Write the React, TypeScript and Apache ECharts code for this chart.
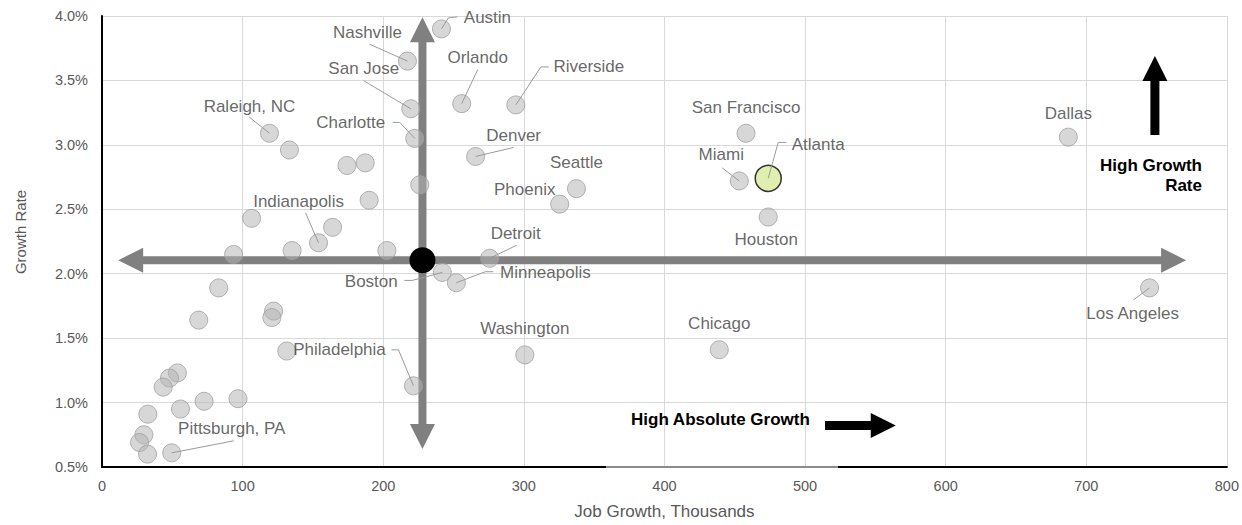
import { useEffect, useRef } from "react";
import * as echarts from "echarts";

// ---- data ----
const labeledCities = [
  "Austin", "Nashville", "San Jose", "Charlotte", "Raleigh, NC", "Orlando", "Riverside",
  "Denver", "Seattle", "Phoenix", "San Francisco", "Miami", "Houston", "Dallas",
  "Los Angeles", "Detroit", "Minneapolis", "Boston", "Washington", "Chicago",
  "Philadelphia", "Indianapolis", "Pittsburgh, PA",
];
const labeledJobGrowth = [
  241.4, 217.2, 219.6, 222.4, 119.1, 255.8, 294.3,
  265.7, 337.4, 325.5, 458.0, 453.2, 473.8, 687.2,
  745.0, 275.7, 252.0, 242.0, 300.7, 439.0,
  221.5, 154.0, 49.6,
];
const labeledGrowthRate = [
  3.90, 3.65, 3.28, 3.05, 3.09, 3.32, 3.31,
  2.91, 2.66, 2.54, 3.09, 2.72, 2.44, 3.06,
  1.89, 2.12, 1.93, 2.01, 1.37, 1.41,
  1.13, 2.24, 0.61,
];

const otherJobGrowth = [
  133.3, 174.2, 187.2, 190.0, 226.0, 106.4, 164.0, 135.2, 93.6, 202.6,
  83.0, 68.8, 122.0, 120.8, 131.4, 53.6, 48.0, 43.5, 72.6, 96.7,
  55.8, 32.6, 29.8, 26.7, 32.4,
];
const otherGrowthRate = [
  2.96, 2.84, 2.86, 2.57, 2.69, 2.43, 2.36, 2.18, 2.15, 2.18,
  1.89, 1.64, 1.71, 1.66, 1.40, 1.23, 1.19, 1.12, 1.01, 1.03,
  0.95, 0.91, 0.75, 0.69, 0.60,
];

const highlightCity = ["Atlanta"];
const highlightJobGrowth = [473.8];
const highlightGrowthRate = [2.74];

const averageJobGrowth = [227.9];
const averageGrowthRate = [2.105];

const xTicks = [0, 100, 200, 300, 400, 500, 600, 700, 800];
const yTicks = [0.5, 1.0, 1.5, 2.0, 2.5, 3.0, 3.5, 4.0];

// ---- label placement: pixel offset from the point to the label centre ----
const labelOffset: Record<string, [number, number]> = {
  Austin: [46, -11],
  Nashville: [-40, -29],
  "San Jose": [-47, -40],
  Charlotte: [-64, -16],
  "Raleigh, NC": [-20, -27],
  Orlando: [16, -46],
  Riverside: [73, -38],
  Denver: [38, -21],
  Seattle: [0, -26],
  Phoenix: [-35, -15],
  "San Francisco": [0, -26],
  Miami: [-18, -26],
  Atlanta: [50, -34],
  Houston: [-2, 22],
  Dallas: [0, -24],
  "Los Angeles": [-17, 26],
  Detroit: [26, -25],
  Minneapolis: [89, -10],
  Boston: [-71, 9],
  Washington: [0, -26],
  Chicago: [0, -26],
  Philadelphia: [-74, -36],
  Indianapolis: [-20, -41],
  "Pittsburgh, PA": [60, -24],
};
// leader line vertices, pixel offsets from the point (line ends at the point)
const leaderOffset: Record<string, [number, number][]> = {
  Austin: [[16, -12], [7, -11]],
  Nashville: [[-38, -17]],
  "San Jose": [[-47, -28]],
  Charlotte: [[-22, -16], [-15, -16]],
  "Raleigh, NC": [[-20, -16]],
  Orlando: [[16, -34]],
  Riverside: [[33, -38], [25, -38]],
  Denver: [[38, -9]],
  Miami: [[-17, -13]],
  Atlanta: [[18, -36], [10, -36]],
  "Los Angeles": [[-16, 12]],
  Detroit: [[27, -13]],
  Minneapolis: [[37, -11], [29, -11]],
  Boston: [[-38, 8], [-30, 8]],
  Philadelphia: [[-22, -36], [-15, -36]],
  Indianapolis: [[-13, -30]],
  "Pittsburgh, PA": [[62, -12]],
};

const FONT = "'Liberation Sans', Arial, sans-serif";
const HATCH = {
  symbol: "rect",
  symbolSize: 1,
  color: "rgba(110,110,110,0.35)",
  dashArrayX: [[1, 6], [7, 0]],
  dashArrayY: [6, 1],
  rotation: 0,
};
const POINT_STYLE = {
  color: "rgba(180,180,180,0.66)",
  borderColor: "#a0a0a0",
  borderWidth: 1,
  decal: HATCH,
};
const LABEL_STYLE = {
  show: true,
  position: "inside",
  formatter: "{b}",
  color: "#404040",
  fontSize: 17,
  fontFamily: FONT,
};

function layoutFn(names: string[]) {
  return (params: any) => {
    const p = labelOffset[names[params.dataIndex]];
    if (!p) return {};
    return { dx: p[0], dy: p[1] };
  };
}

export default function App() {
  const ref = useRef<HTMLDivElement>(null);

  useEffect(() => {
    if (!ref.current) return;
    const chart = echarts.init(ref.current, null, { renderer: "svg" });

    const allNames = [...labeledCities, ...highlightCity];
    const allX = [...labeledJobGrowth, ...highlightJobGrowth];
    const allY = [...labeledGrowthRate, ...highlightGrowthRate];
    const leaderData = allNames
      .map((n, i) => [allX[i], allY[i], i])
      .filter((d) => leaderOffset[allNames[d[2] as number]]);

    const option: any = {
      animation: false,
      backgroundColor: "#ffffff",
      grid: { left: 102, right: 13, top: 16, bottom: 53, containLabel: false },
      xAxis: {
        type: "value",
        min: xTicks[0],
        max: xTicks[xTicks.length - 1],
        interval: 100,
        name: "Job Growth, Thousands",
        nameLocation: "middle",
        nameGap: 36,
        nameTextStyle: { color: "#595959", fontSize: 17, fontFamily: FONT },
        axisLine: { show: true, lineStyle: { color: "#000000", width: 2 } },
        axisTick: { show: false },
        axisLabel: { color: "#595959", fontSize: 14.5, fontFamily: FONT, margin: 11 },
        splitLine: { show: true, lineStyle: { color: "#d9d9d9", width: 1 } },
      },
      yAxis: {
        type: "value",
        min: yTicks[0],
        max: yTicks[yTicks.length - 1],
        interval: 0.5,
        axisLine: { show: true, lineStyle: { color: "#000000", width: 2 } },
        axisTick: { show: false },
        axisLabel: {
          color: "#595959",
          fontSize: 14.5,
          fontFamily: FONT,
          margin: 14,
          formatter: (v: number) => v.toFixed(1) + "%",
        },
        splitLine: { show: true, lineStyle: { color: "#d9d9d9", width: 1 } },
      },
      series: [
        {
          type: "scatter",
          name: "other",
          symbolSize: 18,
          z: 3,
          itemStyle: POINT_STYLE,
          data: otherJobGrowth.map((x, i) => [x, otherGrowthRate[i]]),
        },
        {
          type: "scatter",
          name: "labeled",
          symbolSize: 18,
          z: 3,
          itemStyle: POINT_STYLE,
          label: LABEL_STYLE,
          labelLayout: layoutFn(labeledCities),
          data: labeledCities.map((n, i) => ({
            name: n,
            value: [labeledJobGrowth[i], labeledGrowthRate[i]],
          })),
        },
        {
          type: "scatter",
          name: "highlight",
          symbolSize: 26,
          z: 4,
          itemStyle: { color: "#d8ea9c", borderColor: "#000000", borderWidth: 1.5 },
          label: LABEL_STYLE,
          labelLayout: layoutFn(highlightCity),
          data: highlightCity.map((n, i) => ({
            name: n,
            value: [highlightJobGrowth[i], highlightGrowthRate[i]],
          })),
        },
        {
          type: "scatter",
          name: "average",
          symbolSize: 26,
          z: 4,
          itemStyle: { color: "#000000", opacity: 1 },
          data: averageJobGrowth.map((x, i) => [x, averageGrowthRate[i]]),
        },
        {
          type: "custom",
          name: "leaders",
          z: 5,
          silent: true,
          data: leaderData,
          renderItem: (params: any, api: any) => {
            const idx = api.value(2);
            const name = allNames[idx];
            const c = api.coord([api.value(0), api.value(1)]);
            const pts = (leaderOffset[name] || []).map((o) => [c[0] + o[0], c[1] + o[1]]);
            pts.push([c[0], c[1]]);
            return {
              type: "polyline",
              shape: { points: pts },
              style: { stroke: "#9a9a9a", lineWidth: 1, fill: null },
            };
          },
        },
      ],
    };
    chart.setOption(option);

    // annotation arrows anchored on the chart's scales
    const toPx = (x: number, y: number) =>
      chart.convertToPixel({ gridIndex: 0 }, [x, y]) as number[];
    const [cx, cy] = toPx(averageJobGrowth[0], averageGrowthRate[0]);
    const leftX = toPx(11.5, 0)[0];
    const rightX = toPx(771, 0)[0];
    const topY = toPx(0, 3.99)[1];
    const botY = toPx(0, 0.64)[1];
    const HL = 25; // head length
    const HW = 12.5; // head half width
    const SW = 4; // shaft half width

    const hArrow = [
      [leftX, cy], [leftX + HL, cy - HW], [leftX + HL, cy - SW], [rightX - HL, cy - SW],
      [rightX - HL, cy - HW], [rightX, cy], [rightX - HL, cy + HW], [rightX - HL, cy + SW],
      [leftX + HL, cy + SW], [leftX + HL, cy + HW],
    ];
    const vArrow = [
      [cx, topY], [cx + HW, topY + HL], [cx + SW, topY + HL], [cx + SW, botY - HL],
      [cx + HW, botY - HL], [cx, botY], [cx - HW, botY - HL], [cx - SW, botY - HL],
      [cx - SW, topY + HL], [cx - HW, topY + HL],
    ];

    // black "high growth rate" arrow
    const [ux, uTip] = toPx(748.8, 3.69);
    const uBot = toPx(748.8, 3.077)[1];
    const upArrow = [
      [ux, uTip], [ux + HW, uTip + HL], [ux + 4.5, uTip + HL], [ux + 4.5, uBot],
      [ux - 4.5, uBot], [ux - 4.5, uTip + HL], [ux - HW, uTip + HL],
    ];
    // black "high absolute growth" arrow
    const [rStart, ry] = toPx(514.2, 0.823);
    const rTip = toPx(564.5, 0.823)[0];
    const rightArrow = [
      [rStart, ry - 4.5], [rTip - HL, ry - 4.5], [rTip - HL, ry - HW], [rTip, ry],
      [rTip - HL, ry + HW], [rTip - HL, ry + 4.5], [rStart, ry + 4.5],
    ];

    const bottomY = toPx(0, 0.5)[1];

    chart.setOption({
      graphic: [
        {
          type: "polygon",
          z: 1,
          shape: { points: hArrow },
          style: { fill: "#808080" },
          silent: true,
        },
        {
          type: "polygon",
          z: 1,
          shape: { points: vArrow },
          style: { fill: "#808080" },
          silent: true,
        },
        {
          type: "polygon",
          z: 5,
          shape: { points: upArrow },
          style: { fill: "#000000" },
          silent: true,
        },
        {
          type: "polygon",
          z: 5,
          shape: { points: rightArrow },
          style: { fill: "#000000" },
          silent: true,
        },
        {
          type: "line",
          z: 6,
          shape: { x1: 606, y1: bottomY, x2: 838, y2: bottomY },
          style: { stroke: "#8c8c8c", lineWidth: 2 },
          silent: true,
        },
        {
          type: "text",
          z: 6,
          x: 1202,
          y: 175,
          style: {
            text: "High Growth\nRate",
            fill: "#000000",
            font: `bold 17px ${FONT}`,
            textAlign: "right",
            textVerticalAlign: "middle",
            lineHeight: 20,
          },
          silent: true,
        },
        {
          type: "text",
          z: 6,
          x: 631,
          y: 419,
          style: {
            text: "High Absolute Growth",
            fill: "#000000",
            font: `bold 17px ${FONT}`,
            textAlign: "left",
            textVerticalAlign: "middle",
          },
          silent: true,
        },
        {
          type: "text",
          z: 6,
          x: 20,
          y: 232,
          rotation: Math.PI / 2,
          style: {
            text: "Growth Rate",
            fill: "#595959",
            font: `15px ${FONT}`,
            textAlign: "center",
            textVerticalAlign: "middle",
          },
          silent: true,
        },
      ],
    });

    return () => chart.dispose();
  }, []);

  return (
    <div
      ref={ref}
      style={{ position: "absolute", left: 0, top: 0, width: 1242, height: 525 }}
    />
  );
}
